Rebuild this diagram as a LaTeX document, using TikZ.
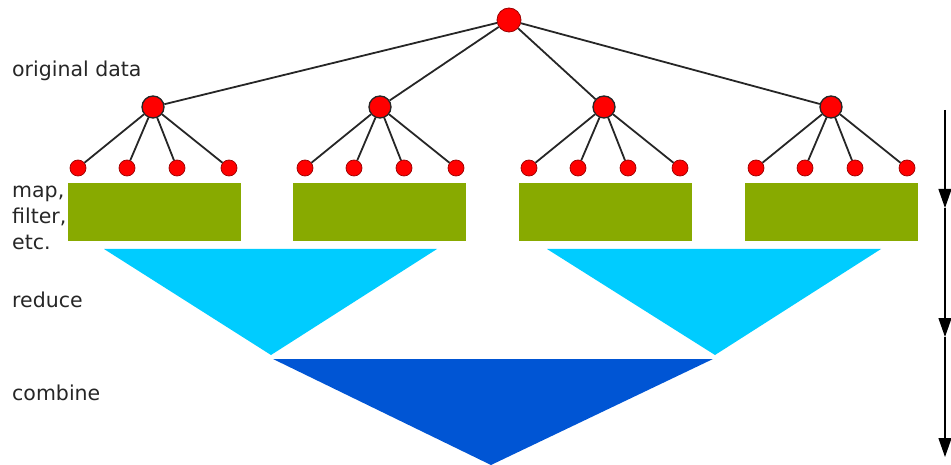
\documentclass[tikz,border=0pt]{standalone}
\usepackage{fontspec}
\setmainfont{DejaVu Sans}
\usetikzlibrary{arrows.meta}
\definecolor{mapgreen}{HTML}{88AA00}
\definecolor{redcyan}{HTML}{00CCFF}
\definecolor{combblue}{HTML}{0055D4}
\tikzset{
  >={Triangle[length=19pt,width=13pt]},
  root/.style  ={circle, draw=red!60!black, fill=red, line width=0.8pt,
                 minimum size=24pt, inner sep=0pt},
  part/.style  ={circle, draw=black!85, fill=red, line width=1.3pt,
                 minimum size=22pt, inner sep=0pt},
  item/.style  ={circle, draw=red!60!black, fill=red, line width=0.7pt,
                 minimum size=16pt, inner sep=0pt},
  edge/.style  ={draw=black!85, line width=1.8pt},
  mapbox/.style={rectangle, fill=mapgreen, minimum width=173pt,
                 minimum height=58pt, inner sep=0pt},
  stage/.style ={anchor=base west, inner sep=0pt, align=left,
                 font=\fontsize{20.5}{26}\selectfont, text=black!85},
  flow/.style  ={->, draw, line width=1.3pt},
}

\begin{document}
\begin{tikzpicture}[x=1pt,y=-1pt]
\useasboundingbox (0,0) rectangle (951,465);
% stages down the left side
\node[stage] (lorig) at (12,77)  {original data};
\node[stage] (lmap)  at (12,250) {map,\\filter,\\etc.};
\node[stage] (lred)  at (12,308) {reduce};
\node[stage] (lcomb) at (12,400) {combine};
% data tree
\node[root] (root) at (509,20)  {};
\node[part] (g1)   at (153,107) {};
\node[part] (g2)   at (380,107) {};
\node[part] (g3)   at (604,107) {};
\node[part] (g4)   at (831,107) {};
\foreach \g in {1,...,4} {
  \draw[edge] (root) -- (g\g);
  \foreach \dx [count=\k] in {-75,-26,24,76} {
    \node[item] (l\g\k) at ([shift={(\dx,61)}]g\g) {};
    \draw[edge] (g\g) -- (l\g\k);
  }
}
% map step, one block per partition
\node[mapbox] (m1) at (154.5,212) {};
\node[mapbox] (m2) at (379.5,212) {};
\node[mapbox] (m3) at (605.5,212) {};
\node[mapbox] (m4) at (831.5,212) {};
% reduce and combine
\fill[redcyan]   (104,249) -- (437,249) -- (271,355) -- cycle;
\fill[redcyan]   (547,249) -- (881,249) -- (715,355) -- cycle;
\fill[combblue]  (273,359) -- (713,359) -- (491,465) -- cycle;
% time axis
\coordinate (t0) at (945,110);
\coordinate (t1) at (945,208);
\coordinate (t2) at (945,337);
\coordinate (t3) at (945,457);
\draw[flow] (t0) -- (t1);
\draw[flow] (t1) -- (t2);
\draw[flow] (t2) -- (t3);
\end{tikzpicture}
\end{document}
